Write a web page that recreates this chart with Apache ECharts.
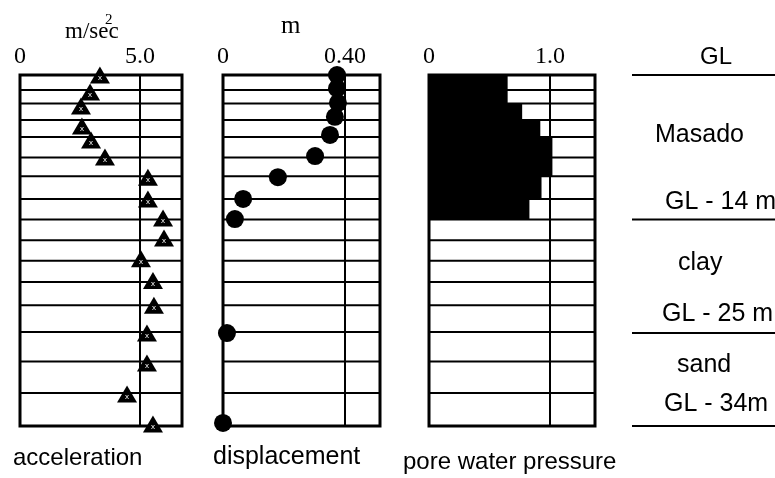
<!DOCTYPE html>
<html><head><meta charset="utf-8">
<script src="https://cdn.jsdelivr.net/npm/echarts@6/dist/echarts.min.js"></script>
<style>html,body{margin:0;padding:0;background:#fff}#c{width:775px;height:478px}</style>
</head><body><div id="c"></div>
<script>
// depth (m) of the horizontal node lines
const gridDepths = [0, 1.45, 2.75, 4.35, 6.0, 8.0, 9.8, 12.0, 14.0, 16.0, 18.0, 20.05, 22.3, 24.9, 27.75, 30.8, 34];
// acceleration (m/sec^2)
const accDepth = [0, 1.65, 3.0, 4.95, 6.3, 7.95, 9.9, 12.0, 13.85, 15.8, 17.8, 19.9, 22.3, 25.0, 27.9, 30.9, 33.8];
const accValue = [3.33, 2.92, 2.54, 2.58, 2.96, 3.54, 5.33, 5.33, 5.96, 6.0, 5.04, 5.54, 5.58, 5.29, 5.29, 4.46, 5.54];
// displacement (m)
const dispDepth = [0, 1.3, 2.7, 4.05, 5.8, 7.85, 9.9, 12.0, 13.95, 25.0, 33.7];
const dispValue = [0.374, 0.374, 0.377, 0.367, 0.351, 0.302, 0.180, 0.066, 0.039, 0.013, 0.0];
// pore water pressure ratio per layer
const poreTop = [0, 1.45, 2.75, 4.35, 6.0, 8.0, 9.8, 12.0];
const poreBottom = [1.45, 2.75, 4.35, 6.0, 8.0, 9.8, 12.0, 14.0];
const poreValue = [0.65, 0.65, 0.77, 0.92, 1.02, 1.02, 0.93, 0.83];
// soil layer boundaries (m)
const layerDepths = [0, 14, 25, 34];
const layerNames = ['GL', 'Masado', 'GL - 14 m', 'clay', 'GL - 25 m', 'sand', 'GL - 34m'];
// tick labels
const accTicks = [0, 5];       const accTickText = ['0', '5.0'];
const dispTicks = [0, 0.4];    const dispTickText = ['0', '0.40'];
const poreTicks = [0, 1];      const poreTickText = ['0', '1.0'];
const panelTitles = ['acceleration', 'displacement', 'pore water pressure'];

const chart = echarts.init(document.getElementById('c'));
const SERIF = '"Liberation Serif", "DejaVu Serif", serif';
const SANS = '"Liberation Sans", Arial, sans-serif';

function xAx(idx, max, interval, ticks, texts) {
  return {
    type: 'value', gridIndex: idx, position: 'top', min: 0, max: max, interval: interval,
    axisLine: {show: false}, axisTick: {show: false},
    axisLabel: {
      show: true, margin: 6, showMaxLabel: false, color: '#000', fontFamily: SERIF, fontSize: 24,
      formatter: v => { const i = ticks.findIndex(t => Math.abs(t - v) < 1e-9); return i >= 0 ? texts[i] : ''; }
    },
    splitLine: {show: true, lineStyle: {color: '#000', width: 2}}
  };
}
function yAx(idx) {
  return {type: 'value', gridIndex: idx, inverse: true, min: 0, max: 34, show: false};
}
function hLines(idx, depths, width) {
  return {
    type: 'custom', xAxisIndex: idx, yAxisIndex: idx, silent: true, z: 1,
    encode: {x: 0, y: 1},
    data: depths.map(d => [0, d]),
    renderItem: (p, api) => {
      const cs = p.coordSys;
      const y = api.coord([0, api.value(1)])[1];
      return {type: 'line', shape: {x1: cs.x, y1: y, x2: cs.x + cs.width, y2: y},
              style: {stroke: '#000', lineWidth: width}};
    }
  };
}

const gridBase = {show: true, borderColor: '#000', borderWidth: 3, backgroundColor: 'transparent', top: 75, height: 351};

chart.setOption({
  backgroundColor: '#fff',
  animation: false,
  grid: [
    Object.assign({left: 20, width: 162}, gridBase),
    Object.assign({left: 223, width: 157}, gridBase),
    Object.assign({left: 429, width: 166}, gridBase),
    {left: 632, width: 143, top: 75, height: 351, show: false}
  ],
  xAxis: [
    xAx(0, 6.75, 5, accTicks, accTickText),
    xAx(1, 0.515, 0.4, dispTicks, dispTickText),
    xAx(2, 1.372, 1, poreTicks, poreTickText),
    {type: 'value', gridIndex: 3, min: 0, max: 1, show: false}
  ],
  yAxis: [yAx(0), yAx(1), yAx(2), yAx(3)],
  series: [
    hLines(0, gridDepths, 2),
    hLines(1, gridDepths, 2),
    hLines(2, gridDepths, 2),
    hLines(3, layerDepths, 2),
    {
      type: 'custom', xAxisIndex: 2, yAxisIndex: 2, z: 2, silent: true,
      encode: {x: 0, y: [1, 2]},
      data: poreValue.map((v, i) => [v, poreTop[i], poreBottom[i]]),
      renderItem: (p, api) => {
        const a = api.coord([0, api.value(1)]);
        const b = api.coord([api.value(0), api.value(2)]);
        return {type: 'rect', shape: {x: a[0], y: a[1], width: b[0] - a[0], height: b[1] - a[1]},
                style: {fill: '#000'}};
      }
    },
    {
      type: 'scatter', xAxisIndex: 0, yAxisIndex: 0, z: 5,
      symbol: 'triangle', symbolSize: [20, 17],
      itemStyle: {color: '#000', opacity: 1},
      label: {show: true, position: 'inside', formatter: 'x', color: '#fff', fontSize: 8, fontFamily: SANS, offset: [0, 3]},
      data: accValue.map((v, i) => [v, accDepth[i]])
    },
    {
      type: 'scatter', xAxisIndex: 1, yAxisIndex: 1, z: 5,
      symbol: 'circle', symbolSize: 18,
      itemStyle: {color: '#000', opacity: 1},
      data: dispValue.map((v, i) => [v, dispDepth[i]])
    }
  ],
  graphic: [
    {type: 'text', left: 65, top: 20, style: {text: 'm/sec', font: '23px ' + SERIF, fill: '#000'}},
    {type: 'text', left: 105, top: 13, style: {text: '2', font: '15px ' + SERIF, fill: '#000'}},
    {type: 'text', left: 281, top: 14, style: {text: 'm', font: '25px ' + SERIF, fill: '#000'}},
    {type: 'text', left: 13, top: 446, style: {text: panelTitles[0], font: '24px ' + SANS, fill: '#000'}},
    {type: 'text', left: 213, top: 445, style: {text: panelTitles[1], font: '25px ' + SANS, fill: '#000'}},
    {type: 'text', left: 403, top: 450, style: {text: panelTitles[2], font: '24px ' + SANS, fill: '#000'}},
    {type: 'text', left: 700, top: 45, style: {text: layerNames[0], font: '24px ' + SANS, fill: '#000'}},
    {type: 'text', left: 655, top: 123, style: {text: layerNames[1], font: '25px ' + SANS, fill: '#000'}},
    {type: 'text', left: 665, top: 190, style: {text: layerNames[2], font: '25px ' + SANS, fill: '#000'}},
    {type: 'text', left: 678, top: 251, style: {text: layerNames[3], font: '25px ' + SANS, fill: '#000'}},
    {type: 'text', left: 662, top: 302, style: {text: layerNames[4], font: '25px ' + SANS, fill: '#000'}},
    {type: 'text', left: 677, top: 353, style: {text: layerNames[5], font: '25px ' + SANS, fill: '#000'}},
    {type: 'text', left: 664, top: 392, style: {text: layerNames[6], font: '25px ' + SANS, fill: '#000'}}
  ]
});
</script>
</body></html>
